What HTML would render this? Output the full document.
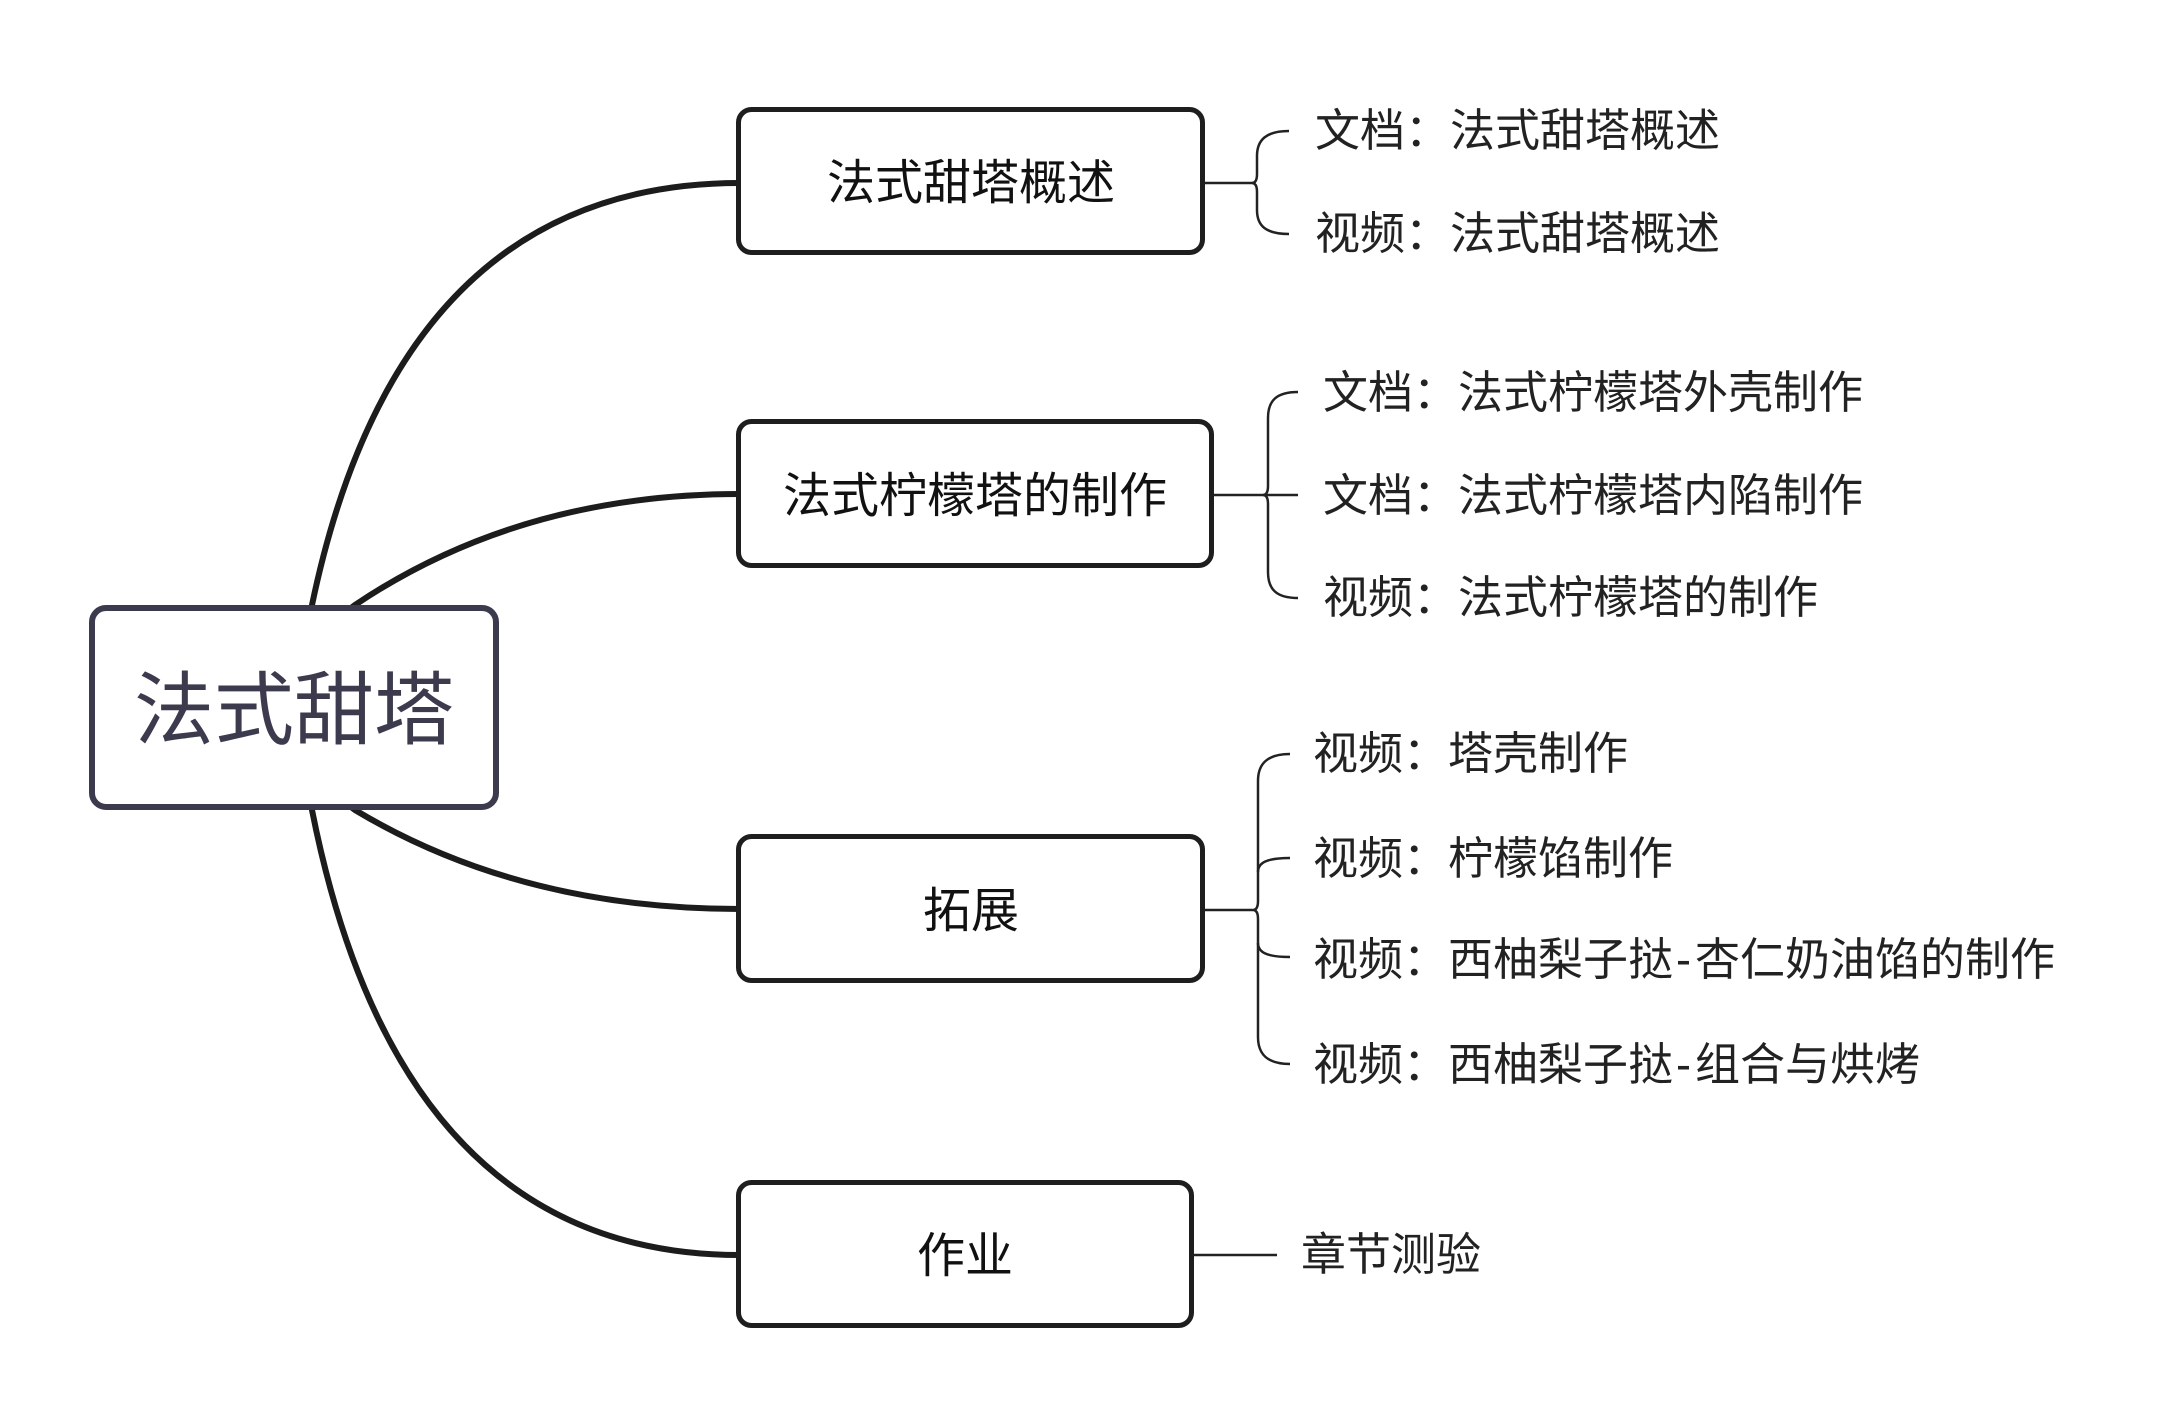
<!DOCTYPE html>
<html>
<head>
<meta charset="utf-8">
<style>
  html, body { margin: 0; padding: 0; background: #ffffff; }
  body { width: 2175px; height: 1416px; overflow: hidden; }
  svg { display: block; }
  text { font-family: "Liberation Sans", "Noto Sans CJK SC", sans-serif; }
</style>
</head>
<body>
<svg width="2175" height="1416" viewBox="0 0 2175 1416" xmlns="http://www.w3.org/2000/svg">
  <rect x="0" y="0" width="2175" height="1416" fill="#ffffff"/>

  <!-- main curves -->
  <g fill="none" stroke="#1c1c1c" stroke-width="6" stroke-linecap="butt">
    <path d="M311,614 L312,605 Q400,183 740,183"/>
    <path d="M347,611 L355,605 Q520,494 740,494"/>
    <path d="M347,804 L355,810 Q520,909 740,909"/>
    <path d="M311,801 L312,810 Q400,1255 740,1255"/>
  </g>

  <!-- central node -->
  <rect x="92" y="608" width="404" height="199" rx="14" ry="14" fill="#ffffff" stroke="#3c3b4d" stroke-width="6"/>
  <text x="294" y="738" font-size="80" fill="#3c3b4d" text-anchor="middle">法式甜塔</text>

  <!-- branch boxes -->
  <g fill="#ffffff" stroke="#1e1e1e" stroke-width="5">
    <rect x="738.5" y="109.5" width="464" height="143" rx="13" ry="13"/>
    <rect x="738.5" y="421.5" width="473" height="144" rx="13" ry="13"/>
    <rect x="738.5" y="836.5" width="464" height="144" rx="13" ry="13"/>
    <rect x="738.5" y="1182.5" width="453" height="143" rx="13" ry="13"/>
  </g>
  <g font-size="48" fill="#111111" text-anchor="middle">
    <text x="971" y="199">法式甜塔概述</text>
    <text x="975" y="512">法式柠檬塔的制作</text>
    <text x="971" y="927">拓展</text>
    <text x="965" y="1272">作业</text>
  </g>

  <!-- connectors & braces -->
  <g fill="none" stroke="#222222" stroke-width="2.5">
    <!-- group 1 -->
    <line x1="1205" y1="183" x2="1253" y2="183"/>
    <path d="M1289,131 C1266,131 1257,140 1257,156 L1257,174 Q1257,183 1252,183 Q1257,183 1257,192 L1257,210 C1257,226 1266,234 1289,234"/>

    <!-- group 2 -->
    <line x1="1213" y1="495" x2="1298" y2="495"/>
    <path d="M1298,392 C1276,392 1268,401 1268,418 L1268,486 Q1268,495 1263,495 Q1268,495 1268,504 L1268,572 C1268,589 1276,598 1298,598"/>

    <!-- group 3 -->
    <line x1="1205" y1="910" x2="1253" y2="910"/>
    <path d="M1290,754 C1267,754 1258,764 1258,781 L1258,901 Q1258,910 1253,910 Q1258,910 1258,919 L1258,1037 C1258,1054 1267,1064 1290,1064"/>
    <path d="M1258,872 C1258,863 1266,858 1290,858"/>
    <path d="M1258,943 C1258,952 1266,957 1290,957"/>

    <!-- group 4 -->
    <line x1="1193" y1="1255" x2="1277" y2="1255"/>
  </g>

  <!-- leaf texts -->
  <g font-size="45" fill="#222222">
    <text x="1315" y="146">文档：法式甜塔概述</text>
    <text x="1315" y="249">视频：法式甜塔概述</text>

    <text x="1323" y="408">文档：法式柠檬塔外壳制作</text>
    <text x="1323" y="511">文档：法式柠檬塔内陷制作</text>
    <text x="1323" y="613">视频：法式柠檬塔的制作</text>

    <text x="1313" y="769">视频：塔壳制作</text>
    <text x="1313" y="874">视频：柠檬馅制作</text>
    <text x="1313" y="975">视频：西柚梨子挞<tspan dx="3">-</tspan><tspan dx="4">杏仁奶油馅的制作</tspan></text>
    <text x="1313" y="1080">视频：西柚梨子挞<tspan dx="3">-</tspan><tspan dx="4">组合与烘烤</tspan></text>

    <text x="1301" y="1270">章节测验</text>
  </g>
</svg>
</body>
</html>
